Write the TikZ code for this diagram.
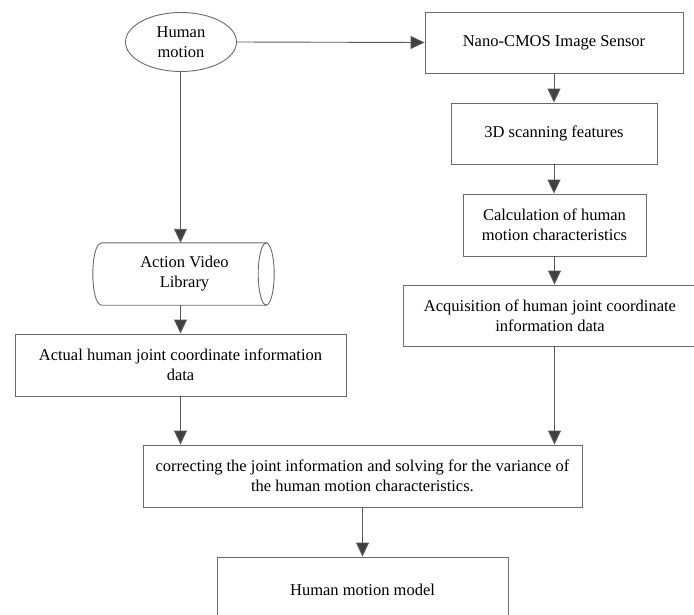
\documentclass[tikz,border=0pt]{standalone}
\usepackage{fontspec}
\setmainfont{Liberation Serif}
\usetikzlibrary{shapes.geometric,arrows.meta}
\definecolor{boxline}{HTML}{6A6A6A}
\definecolor{arrline}{HTML}{5A5A5A}
\definecolor{arrhead}{HTML}{404040}
\begin{document}
\begin{tikzpicture}[x=1pt,y=-1pt,
  every node/.style={font=\fontsize{16.5pt}{20pt}\selectfont, align=center, inner sep=0pt},
  box/.style={draw=boxline, line width=0.9pt, rectangle},
  arr/.style={draw=arrline, line width=0.9pt, -{Triangle[length=14pt,width=13pt,fill=arrhead]}}]
\useasboundingbox (0,0) rectangle (694,614);
\clip (0,0) rectangle (694,614);
% nodes
\node[draw=boxline, line width=0.9pt, ellipse, minimum width=111pt, minimum height=59pt] (hm) at (181,42) {Human\\motion};
\node[box, minimum width=258pt, minimum height=61pt] (nano) at (554,42.5) {Nano-CMOS Image Sensor};
\node[box, minimum width=206pt, minimum height=61pt] (scan) at (554,133.5) {3D scanning features};
\node[box, minimum width=183pt, minimum height=62pt] (calc) at (554.5,225) {Calculation of human\\motion characteristics};
\node[box, minimum width=294pt, minimum height=61pt] (acq) at (550,315.5) {Acquisition of human joint coordinate\\information data};
\node[minimum width=165pt, minimum height=62pt] (cyl) at (184.5,274) {Action Video\\Library};
\node[box, minimum width=331pt, minimum height=62pt] (actual) at (180.5,365) {Actual human joint coordinate information\\data};
\node[box, minimum width=439pt, minimum height=62pt] (corr) at (362.5,476) {correcting the joint information and solving for the variance of\\the human motion characteristics.};
\node[box, minimum width=291pt, minimum height=66pt] (model) at (362.5,590) {Human motion model};
% cylinder outline
\draw[boxline, line width=0.9pt] (cyl.north west) -- (cyl.north east)
  (cyl.south west) -- (cyl.south east)
  (cyl.north west) .. controls ([xshift=-12pt]cyl.north west) and ([xshift=-12pt]cyl.south west) .. (cyl.south west);
\draw[boxline, line width=0.9pt] ([xshift=-1pt]cyl.east) ellipse [x radius=8pt, y radius=31pt];
% connectors
\draw[arr] (hm.east) -- (nano.west);
\draw[arr] (hm.south -| actual.north) -- (cyl.north -| actual.north);
\draw[arr] (cyl.south -| actual.north) -- (actual.north);
\draw[arr] (nano.south) -- (scan.north);
\draw[arr] (scan.south) -- (scan.south |- calc.north);
\draw[arr] (calc.south) -- (calc.south |- acq.north);
\draw[arr] (calc.south |- acq.south) -- (calc.south |- corr.north);
\draw[arr] (actual.south) -- (actual.south |- corr.north);
\draw[arr] (corr.south) -- (model.north);
\end{tikzpicture}
\end{document}
